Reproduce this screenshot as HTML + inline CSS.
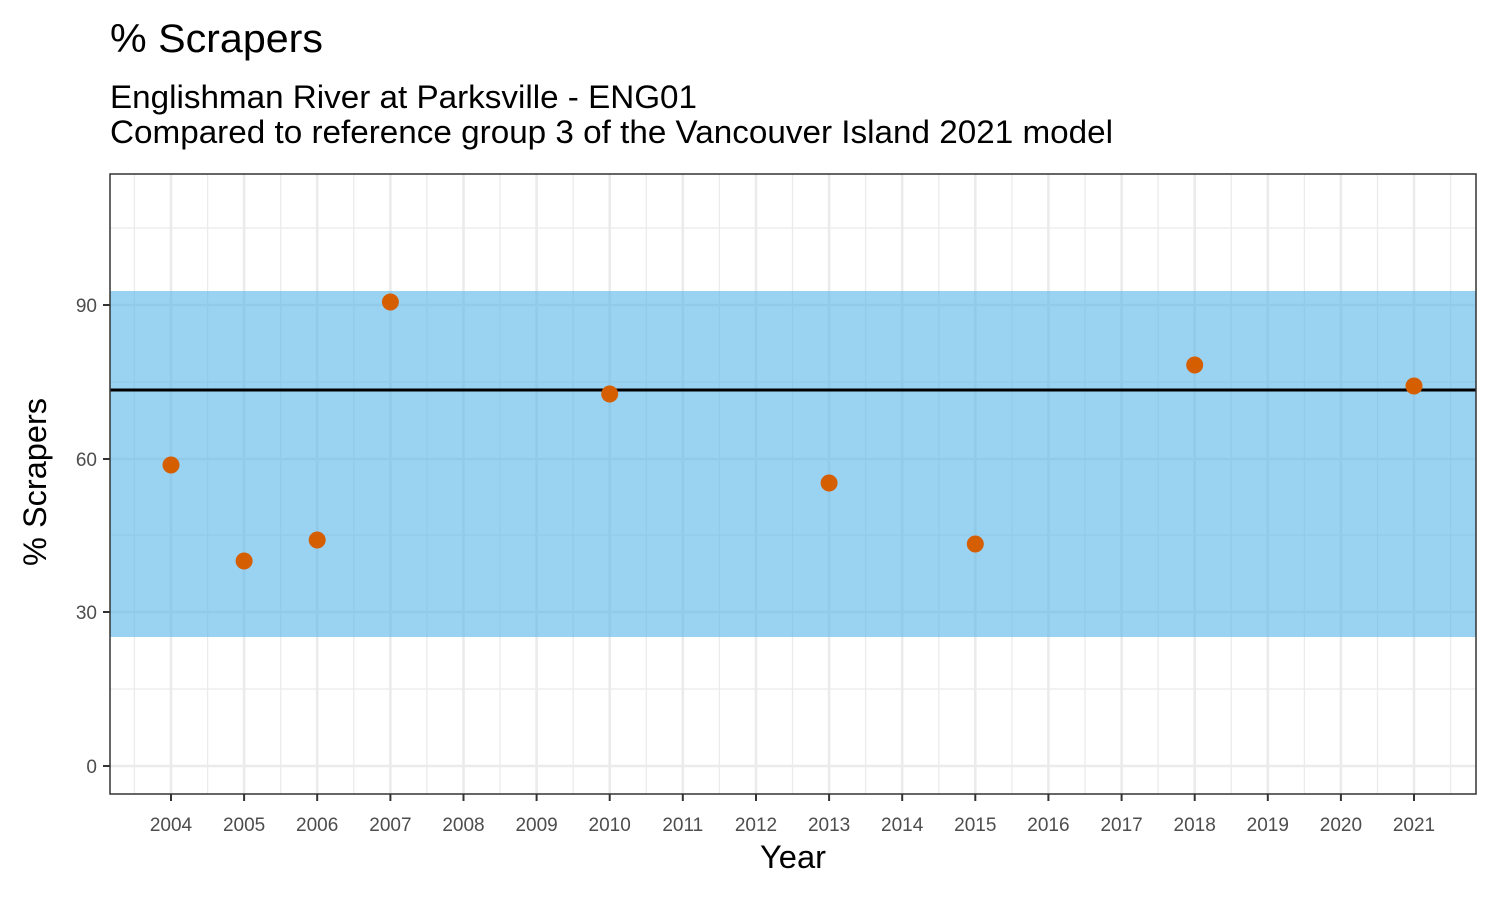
<!DOCTYPE html>
<html><head><meta charset="utf-8"><style>
html,body{margin:0;padding:0;background:#fff;}
svg{display:block;font-family:"Liberation Sans",Arial,sans-serif;}
</style></head><body>
<svg width="1500" height="900" viewBox="0 0 1500 900" xmlns="http://www.w3.org/2000/svg">
<rect width="1500" height="900" fill="#fff"/>
<text x="110" y="52" font-size="40" textLength="213" lengthAdjust="spacingAndGlyphs" fill="#000">% Scrapers</text>
<text x="110" y="108" font-size="32" textLength="587" lengthAdjust="spacingAndGlyphs" fill="#000">Englishman River at Parksville - ENG01</text>
<text x="110" y="143" font-size="32" textLength="1003" lengthAdjust="spacingAndGlyphs" fill="#000">Compared to reference group 3 of the Vancouver Island 2021 model</text>
<g stroke="#EBEBEB">
<g stroke-width="1.3">
<line x1="110" x2="1476" y1="228" y2="228"/><line x1="110" x2="1476" y1="382" y2="382"/>
<line x1="110" x2="1476" y1="535" y2="535"/><line x1="110" x2="1476" y1="689" y2="689"/>
<line x1="134.4" x2="134.4" y1="174" y2="794"/><line x1="207.6" x2="207.6" y1="174" y2="794"/><line x1="280.7" x2="280.7" y1="174" y2="794"/><line x1="353.8" x2="353.8" y1="174" y2="794"/><line x1="426.9" x2="426.9" y1="174" y2="794"/><line x1="500.0" x2="500.0" y1="174" y2="794"/><line x1="573.2" x2="573.2" y1="174" y2="794"/><line x1="646.3" x2="646.3" y1="174" y2="794"/><line x1="719.4" x2="719.4" y1="174" y2="794"/><line x1="792.5" x2="792.5" y1="174" y2="794"/><line x1="865.6" x2="865.6" y1="174" y2="794"/><line x1="938.8" x2="938.8" y1="174" y2="794"/><line x1="1011.9" x2="1011.9" y1="174" y2="794"/><line x1="1085.0" x2="1085.0" y1="174" y2="794"/><line x1="1158.1" x2="1158.1" y1="174" y2="794"/><line x1="1231.2" x2="1231.2" y1="174" y2="794"/><line x1="1304.4" x2="1304.4" y1="174" y2="794"/><line x1="1377.5" x2="1377.5" y1="174" y2="794"/><line x1="1450.6" x2="1450.6" y1="174" y2="794"/>
</g>
<g stroke-width="2.6">
<line x1="110" x2="1476" y1="305" y2="305"/><line x1="110" x2="1476" y1="459" y2="459"/>
<line x1="110" x2="1476" y1="612" y2="612"/><line x1="110" x2="1476" y1="766" y2="766"/>
<line x1="171.0" x2="171.0" y1="174" y2="794"/><line x1="244.1" x2="244.1" y1="174" y2="794"/><line x1="317.2" x2="317.2" y1="174" y2="794"/><line x1="390.4" x2="390.4" y1="174" y2="794"/><line x1="463.5" x2="463.5" y1="174" y2="794"/><line x1="536.6" x2="536.6" y1="174" y2="794"/><line x1="609.7" x2="609.7" y1="174" y2="794"/><line x1="682.8" x2="682.8" y1="174" y2="794"/><line x1="756.0" x2="756.0" y1="174" y2="794"/><line x1="829.1" x2="829.1" y1="174" y2="794"/><line x1="902.2" x2="902.2" y1="174" y2="794"/><line x1="975.3" x2="975.3" y1="174" y2="794"/><line x1="1048.4" x2="1048.4" y1="174" y2="794"/><line x1="1121.6" x2="1121.6" y1="174" y2="794"/><line x1="1194.7" x2="1194.7" y1="174" y2="794"/><line x1="1267.8" x2="1267.8" y1="174" y2="794"/><line x1="1340.9" x2="1340.9" y1="174" y2="794"/><line x1="1414.0" x2="1414.0" y1="174" y2="794"/>
</g>
</g>
<rect x="110" y="291" width="1366" height="346" fill="#56B4E9" fill-opacity="0.6"/>
<line x1="110" x2="1476" y1="390" y2="390" stroke="#000" stroke-width="3"/>
<g fill="#D55E00">
<circle cx="171" cy="465" r="8.5"/><circle cx="244.1" cy="561" r="8.5"/><circle cx="317.2" cy="540" r="8.5"/><circle cx="390.4" cy="302" r="8.5"/><circle cx="609.7" cy="394" r="8.5"/><circle cx="829.1" cy="483" r="8.5"/><circle cx="975.3" cy="544" r="8.5"/><circle cx="1194.7" cy="365" r="8.5"/><circle cx="1414" cy="386" r="8.5"/>
</g>
<rect x="110" y="174" width="1366" height="620" fill="none" stroke="#333" stroke-width="1.5"/>
<g stroke="#333" stroke-width="2">
<line x1="103" x2="110" y1="305" y2="305"/><line x1="103" x2="110" y1="459" y2="459"/><line x1="103" x2="110" y1="612" y2="612"/><line x1="103" x2="110" y1="766" y2="766"/>
</g>
<g font-size="19" fill="#4D4D4D" text-anchor="end">
<text x="97" y="312">90</text><text x="97" y="466">60</text><text x="97" y="619">30</text><text x="97" y="773">0</text>
</g>
<g stroke="#333" stroke-width="2">
<line x1="171.0" x2="171.0" y1="794" y2="801"/><line x1="244.1" x2="244.1" y1="794" y2="801"/><line x1="317.2" x2="317.2" y1="794" y2="801"/><line x1="390.4" x2="390.4" y1="794" y2="801"/><line x1="463.5" x2="463.5" y1="794" y2="801"/><line x1="536.6" x2="536.6" y1="794" y2="801"/><line x1="609.7" x2="609.7" y1="794" y2="801"/><line x1="682.8" x2="682.8" y1="794" y2="801"/><line x1="756.0" x2="756.0" y1="794" y2="801"/><line x1="829.1" x2="829.1" y1="794" y2="801"/><line x1="902.2" x2="902.2" y1="794" y2="801"/><line x1="975.3" x2="975.3" y1="794" y2="801"/><line x1="1048.4" x2="1048.4" y1="794" y2="801"/><line x1="1121.6" x2="1121.6" y1="794" y2="801"/><line x1="1194.7" x2="1194.7" y1="794" y2="801"/><line x1="1267.8" x2="1267.8" y1="794" y2="801"/><line x1="1340.9" x2="1340.9" y1="794" y2="801"/><line x1="1414.0" x2="1414.0" y1="794" y2="801"/>
</g>
<g font-size="19" fill="#4D4D4D" text-anchor="middle">
<text x="171.0" y="831">2004</text><text x="244.1" y="831">2005</text><text x="317.2" y="831">2006</text><text x="390.4" y="831">2007</text><text x="463.5" y="831">2008</text><text x="536.6" y="831">2009</text><text x="609.7" y="831">2010</text><text x="682.8" y="831">2011</text><text x="756.0" y="831">2012</text><text x="829.1" y="831">2013</text><text x="902.2" y="831">2014</text><text x="975.3" y="831">2015</text><text x="1048.4" y="831">2016</text><text x="1121.6" y="831">2017</text><text x="1194.7" y="831">2018</text><text x="1267.8" y="831">2019</text><text x="1340.9" y="831">2020</text><text x="1414.0" y="831">2021</text>
</g>
<text x="793" y="868" font-size="32" textLength="66" lengthAdjust="spacingAndGlyphs" text-anchor="middle" fill="#000">Year</text>
<text transform="translate(46,482) rotate(-90)" font-size="32" textLength="168" lengthAdjust="spacingAndGlyphs" text-anchor="middle" fill="#000">% Scrapers</text>
</svg>
</body></html>
